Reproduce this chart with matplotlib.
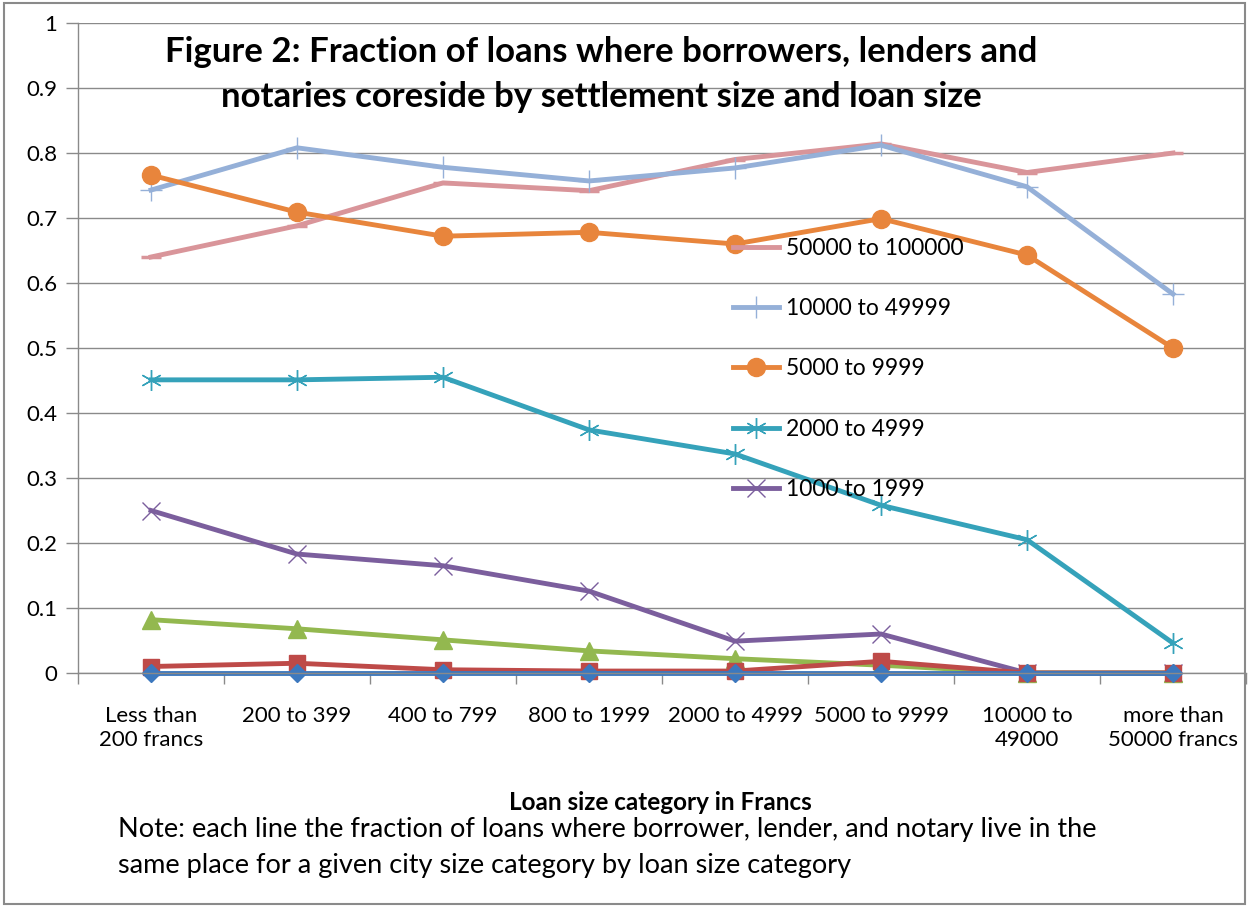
import matplotlib
matplotlib.use("Agg")
import matplotlib.pyplot as plt
from matplotlib.lines import Line2D
from matplotlib.patches import Rectangle

plt.rcParams['font.family'] = ['Lato', 'DejaVu Sans']

# Loan size categories (x axis)
categories = ['Less than\n200 francs', '200 to 399', '400 to 799', '800 to 1999',
              '2000 to 4999', '5000 to 9999', '10000 to\n49000', 'more than\n50000 francs']

# Fraction of co-residing loans, one list per settlement size
s_50000_100000 = [0.640, 0.688, 0.754, 0.742, 0.790, 0.814, 0.770, 0.800]
s_10000_49999 = [0.743, 0.808, 0.778, 0.757, 0.777, 0.812, 0.748, 0.583]
s_5000_9999 = [0.766, 0.709, 0.672, 0.678, 0.660, 0.699, 0.643, 0.500]
s_2000_4999 = [0.451, 0.451, 0.455, 0.374, 0.337, 0.258, 0.205, 0.046]
s_1000_1999 = [0.250, 0.183, 0.165, 0.126, 0.049, 0.060, 0.0, 0.0]
s_500_999 = [0.082, 0.068, 0.051, 0.034, 0.022, 0.012, 0.0, 0.0]
s_100_499 = [0.010, 0.015, 0.005, 0.003, 0.003, 0.018, 0.0, 0.0]
s_under_100 = [0.0, 0.0, 0.0, 0.0, 0.0, 0.0, 0.0, 0.0]

legend_labels = ['50000 to 100000', '10000 to 49999', '5000 to 9999', '2000 to 4999', '1000 to 1999']

fig = plt.figure(figsize=(12.49, 9.07), dpi=100)
ax = fig.add_axes([78 / 1249, 1 - 673 / 907, 1168 / 1249, 650 / 907])

x = list(range(len(categories)))
lw = 3.5

# (values, color, marker, size, marker edge width)
series = [
    (s_50000_100000, '#D9959A', '_', 14, 2.5),
    (s_10000_49999, '#95B0D8', '+', 16, 1.0),
    (s_5000_9999, '#E8853C', 'o', 13, 1.0),
    (s_2000_4999, '#35A2BA', (6, 2, 0), 15, 1.0),
    (s_1000_1999, '#7B5E9D', 'x', 13, 1.0),
    (s_500_999, '#93B84F', '^', 13, 1.0),
    (s_100_499, '#BE4A48', 's', 12, 1.0),
    (s_under_100, '#3C78BE', 'D', 9, 1.0),
]

for vals, col, mk, ms, mew in series:
    ax.plot(x, vals, color=col, lw=lw, marker=mk, ms=ms, mew=mew,
            mfc=col, mec=col, clip_on=False)

ax.set_xlim(-0.5, 7.5)
ax.set_ylim(0, 1)
ax.set_yticks([i / 10 for i in range(11)])
ax.set_yticklabels(['0'] + ['0.%d' % i for i in range(1, 10)] + ['1'])
ax.grid(axis='y', color='#8A8A8A', lw=1.0)
ax.set_axisbelow(True)

ax.set_xticks(x)
ax.set_xticklabels(categories)
ax.set_xticks([i - 0.5 for i in range(9)], minor=True)
ax.tick_params(axis='x', which='major', length=0, pad=24, labelsize=16)
ax.tick_params(axis='x', which='minor', length=8, color='#8A8A8A', width=1)
ax.tick_params(axis='y', length=9, color='#8A8A8A', width=1, labelsize=16, pad=6)

for side in ('top', 'right'):
    ax.spines[side].set_visible(False)
for side in ('left', 'bottom'):
    ax.spines[side].set_color('#8A8A8A')
    ax.spines[side].set_linewidth(1)

leg_handles = []
for (vals, col, mk, ms, mew), lab in zip(series[:5], legend_labels):
    leg_handles.append(Line2D([], [], color=col, lw=lw, marker=mk, ms=ms, mew=mew,
                              mfc=col, mec=col, label=lab))
ax.legend(handles=leg_handles, loc='upper left', bbox_to_anchor=(0.553, 0.684),
          frameon=False, fontsize=16.5, handlelength=2.0, labelspacing=1.72,
          handletextpad=0.3, borderaxespad=0)

fig.text(601 / 1249, 1 - 52 / 907, 'Figure 2: Fraction of loans where borrowers, lenders and',
         ha='center', va='center', fontsize=25, fontweight='bold')
fig.text(601 / 1249, 1 - 97 / 907, 'notaries coreside by settlement size and loan size',
         ha='center', va='center', fontsize=25, fontweight='bold')
fig.text(660 / 1249, 1 - 802 / 907, 'Loan size category in Francs',
         ha='center', va='center', fontsize=17.5, fontweight='bold')
fig.text(118 / 1249, 1 - 830 / 907,
         'Note: each line the fraction of loans where borrower, lender, and notary live in the',
         ha='left', va='center', fontsize=19.5)
fig.text(118 / 1249, 1 - 865 / 907,
         'same place for a given city size category by loan size category',
         ha='left', va='center', fontsize=19.5)

fig.patches.append(Rectangle((0.003, 0.003), 0.994, 0.994, transform=fig.transFigure,
                             fill=False, edgecolor='#8A8A8A', lw=1.5))

fig.savefig('out.png', dpi=100)
